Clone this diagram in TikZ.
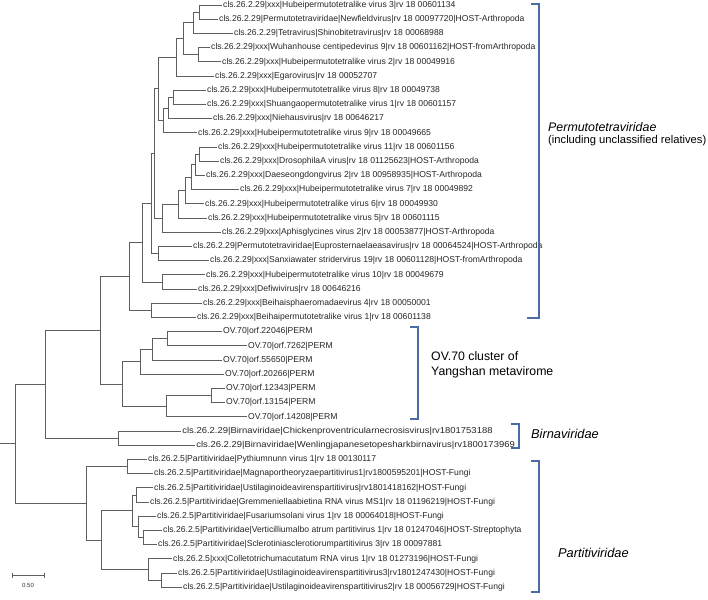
\documentclass[tikz,border=0pt]{standalone}
\usepackage{fontspec}
\setmainfont{Liberation Sans}
\definecolor{brk}{HTML}{4A6BA5}
\definecolor{tree}{HTML}{5E5E5E}
\begin{document}
\begin{tikzpicture}[x=1pt,y=-1pt,
  leaf/.style={anchor=west,inner sep=1pt,font=\fontsize{8.6}{9.5}\selectfont,text=black!85},
  wideleaf/.style={leaf,xscale=1.1},
  branch/.style={draw=tree,line width=0.8pt},
  clade/.style={draw=brk,line width=1.1pt},
  cladelabel/.style={anchor=west,inner sep=0pt,font=\fontsize{12.3}{14}\selectfont},
  cladename/.style={anchor=west,inner sep=0pt,font=\fontsize{12.8}{14}\selectfont\itshape},
  permlabel/.style={anchor=west,inner sep=0pt,font=\fontsize{11.2}{13}\selectfont}]
\useasboundingbox (0,0) rectangle (708,599);
% ---------- leaves ----------
\node[leaf] (L1)  at (222,5.0)   {cls.26.2.29|xxx|Hubeipermutotetralike virus 3|rv 18 00601134};
\node[leaf] (L2)  at (218,19.2)  {cls.26.2.29|Permutotetraviridae|Newfieldvirus|rv 18 00097720|HOST-Arthropoda};
\node[leaf] (L3)  at (233,33.4)  {cls.26.2.29|Tetravirus|Shinobitetravirus|rv 18 00068988};
\node[leaf] (L4)  at (210,47.6)  {cls.26.2.29|xxx|Wuhanhouse centipedevirus 9|rv 18 00601162|HOST-fromArthropoda};
\node[leaf] (L5)  at (221,61.8)  {cls.26.2.29|xxx|Hubeipermutotetralike virus 2|rv 18 00049916};
\node[leaf] (L6)  at (214,76.0)  {cls.26.2.29|xxx|Egarovirus|rv 18 00052707};
\node[leaf] (L7)  at (206,90.2)  {cls.26.2.29|xxx|Hubeipermutotetralike virus 8|rv 18 00049738};
\node[leaf] (L8)  at (206,104.4) {cls.26.2.29|xxx|Shuangaopermutotetralike virus 1|rv 18 00601157};
\node[leaf] (L9)  at (212,118.6) {cls.26.2.29|xxx|Niehausvirus|rv 18 00646217};
\node[leaf] (L10) at (197,132.8) {cls.26.2.29|xxx|Hubeipermutotetralike virus 9|rv 18 00049665};
\node[leaf] (L11) at (217,147.0) {cls.26.2.29|xxx|Hubeipermutotetralike virus 11|rv 18 00601156};
\node[leaf] (L12) at (219,161.2) {cls.26.2.29|xxx|DrosophilaA virus|rv 18 01125623|HOST-Arthropoda};
\node[leaf] (L13) at (205,175.4) {cls.26.2.29|xxx|Daeseongdongvirus 2|rv 18 00958935|HOST-Arthropoda};
\node[leaf] (L14) at (239,189.6) {cls.26.2.29|xxx|Hubeipermutotetralike virus 7|rv 18 00049892};
\node[leaf] (L15) at (204,203.8) {cls.26.2.29|xxx|Hubeipermutotetralike virus 6|rv 18 00049930};
\node[leaf] (L16) at (207,218.0) {cls.26.2.29|xxx|Hubeipermutotetralike virus 5|rv 18 00601115};
\node[leaf] (L17) at (221,232.2) {cls.26.2.29|xxx|Aphisglycines virus 2|rv 18 00053877|HOST-Arthropoda};
\node[leaf] (L18) at (192,246.4) {cls.26.2.29|Permutotetraviridae|Euprosternaelaeasavirus|rv 18 00064524|HOST-Arthropoda};
\node[leaf] (L19) at (209,260.6) {cls.26.2.29|xxx|Sanxiawater stridervirus 19|rv 18 00601128|HOST-fromArthropoda};
\node[leaf] (L20) at (205,274.8) {cls.26.2.29|xxx|Hubeipermutotetralike virus 10|rv 18 00049679};
\node[leaf] (L21) at (197,289.0) {cls.26.2.29|xxx|Defiwivirus|rv 18 00646216};
\node[leaf] (L22) at (202,303.2) {cls.26.2.29|xxx|Beihaisphaeromadaevirus 4|rv 18 00050001};
\node[leaf] (L23) at (196,317.4) {cls.26.2.29|xxx|Beihaipermutotetralike virus 1|rv 18 00601138};
\node[leaf] (L24) at (222,331.6) {OV.70|orf.22046|PERM};
\node[leaf] (L25) at (247,345.8) {OV.70|orf.7262|PERM};
\node[leaf] (L26) at (222,360.0) {OV.70|orf.55650|PERM};
\node[leaf] (L27) at (224,374.2) {OV.70|orf.20266|PERM};
\node[leaf] (L28) at (225,388.4) {OV.70|orf.12343|PERM};
\node[leaf] (L29) at (225,402.6) {OV.70|orf.13154|PERM};
\node[leaf] (L30) at (247,416.8) {OV.70|orf.14208|PERM};
\node[wideleaf] (L31) at (181,431.0) {cls.26.2.29|Birnaviridae|Chickenproventricularnecrosisvirus|rv1801753188};
\node[wideleaf] (L32) at (195,445.2) {cls.26.2.29|Birnaviridae|Wenlingjapanesetopesharkbirnavirus|rv1800173969};
\node[leaf] (L33) at (147,459.4) {cls.26.2.5|Partitiviridae|Pythiumnunn virus 1|rv 18 00130117};
\node[leaf] (L34) at (153,473.6) {cls.26.2.5|Partitiviridae|Magnaportheoryzaepartitivirus1|rv1800595201|HOST-Fungi};
\node[leaf] (L35) at (153,487.8) {cls.26.2.5|Partitiviridae|Ustilaginoideavirenspartitivirus|rv1801418162|HOST-Fungi};
\node[leaf] (L36) at (149,502.0) {cls.26.2.5|Partitiviridae|Gremmeniellaabietina RNA virus MS1|rv 18 01196219|HOST-Fungi};
\node[leaf] (L37) at (156,516.2) {cls.26.2.5|Partitiviridae|Fusariumsolani virus 1|rv 18 00064018|HOST-Fungi};
\node[leaf] (L38) at (162,530.4) {cls.26.2.5|Partitiviridae|Verticilliumalbo atrum partitivirus 1|rv 18 01247046|HOST-Streptophyta};
\node[leaf] (L39) at (157,544.6) {cls.26.2.5|Partitiviridae|Sclerotiniasclerotiorumpartitivirus 3|rv 18 00097881};
\node[leaf] (L40) at (172,558.8) {cls.26.2.5|xxx|Colletotrichumacutatum RNA virus 1|rv 18 01273196|HOST-Fungi};
\node[leaf] (L41) at (177,573.0) {cls.26.2.5|Partitiviridae|Ustilaginoideavirenspartitivirus3|rv1801247430|HOST-Fungi};
\node[leaf] (L42) at (182,587.2) {cls.26.2.5|Partitiviridae|Ustilaginoideavirenspartitivirus2|rv 18 00056729|HOST-Fungi};
% ---------- internal nodes ----------
\coordinate (A)  at (199,12.1);
\coordinate (B)  at (193,22.75);
\coordinate (C)  at (198,54.7);
\coordinate (D)  at (183,38.73);
\coordinate (E)  at (176,57.36);
\coordinate (F)  at (173,97.3);
\coordinate (G)  at (168,107.95);
\coordinate (H)  at (163,120.38);
\coordinate (I)  at (158,88.87);
\coordinate (K1) at (199,154.1);
\coordinate (K2) at (195,164.75);
\coordinate (K3) at (191,177.18);
\coordinate (K4) at (185,190.49);
\coordinate (K5) at (178,204.24);
\coordinate (K6) at (162,218.22);
\coordinate (J)  at (154,153.55);
\coordinate (M)  at (158,253.5);
\coordinate (Lc) at (151,203.52);
\coordinate (O)  at (162,281.9);
\coordinate (N)  at (142,242.71);
\coordinate (Q)  at (151,310.3);
\coordinate (P)  at (129,276.5);
\coordinate (T3) at (167,338.7);
\coordinate (T2) at (152,349.35);
\coordinate (T1) at (140,361.78);
\coordinate (U1) at (211,395.5);
\coordinate (U)  at (166,406.15);
\coordinate (S)  at (122,383.96);
\coordinate (R)  at (100,330.23);
\coordinate (W)  at (118,438.1);
\coordinate (V)  at (45,384.17);
\coordinate (Y1) at (127,466.5);
\coordinate (Y5) at (136,494.9);
\coordinate (Y7) at (143,537.5);
\coordinate (Y6) at (138,526.85);
\coordinate (Y3) at (132,510.88);
\coordinate (Y8) at (161,580.1);
\coordinate (Y4) at (148,569.45);
\coordinate (Y2) at (101,540.16);
\coordinate (Y)  at (86,503.33);
\coordinate (X)  at (15,443.75);
\coordinate (root) at (0,443.75);
% ---------- branches ----------
\foreach \p/\c in {A/L1.west,A/L2.west,B/A,B/L3.west,C/L4.west,C/L5.west,D/B,D/C,E/D,E/L6.west,
  F/L7.west,F/L8.west,G/F,G/L9.west,H/G,H/L10.west,I/E,I/H,
  K1/L11.west,K1/L12.west,K2/K1,K2/L13.west,K3/K2,K3/L14.west,K4/K3,K4/L15.west,K5/K4,K5/L16.west,
  K6/K5,K6/L17.west,J/I,J/K6,M/L18.west,M/L19.west,Lc/J,Lc/M,O/L20.west,O/L21.west,N/Lc,N/O,
  Q/L22.west,Q/L23.west,P/N,P/Q,T3/L24.west,T3/L25.west,T2/T3,T2/L26.west,T1/T2,T1/L27.west,
  U1/L28.west,U1/L29.west,U/U1,U/L30.west,S/T1,S/U,R/P,R/S,W/L31.west,W/L32.west,V/R,V/W,
  Y1/L33.west,Y1/L34.west,Y5/L35.west,Y5/L36.west,Y7/L38.west,Y7/L39.west,Y6/L37.west,Y6/Y7,
  Y3/Y5,Y3/Y6,Y8/L41.west,Y8/L42.west,Y4/L40.west,Y4/Y8,Y2/Y3,Y2/Y4,Y/Y1,Y/Y2,X/V,X/Y}
  \draw[branch] (\p) |- (\c);
\draw[branch] (root) -- (X);
% ---------- clade brackets ----------
\coordinate (pb1) at (531,4);   \coordinate (pb2) at (539,4);
\coordinate (pb3) at (539,318); \coordinate (pb4) at (527,318);
\draw[clade] (pb1) -- (pb2) -- (pb3) -- (pb4);
\coordinate (ob1) at (410,327); \coordinate (ob2) at (418,327);
\coordinate (ob3) at (418,419); \coordinate (ob4) at (410,419);
\draw[clade] (ob1) -- (ob2) -- (ob3) -- (ob4);
\coordinate (bb1) at (511,424); \coordinate (bb2) at (519,424);
\coordinate (bb3) at (519,448); \coordinate (bb4) at (511,448);
\draw[clade] (bb1) -- (bb2) -- (bb3) -- (bb4);
\coordinate (tb1) at (531,461); \coordinate (tb2) at (539,461);
\coordinate (tb3) at (539,592); \coordinate (tb4) at (531,592);
\draw[clade] (tb1) -- (tb2) -- (tb3) -- (tb4);
% ---------- clade labels ----------
\node[cladename,font=\fontsize{12.4}{14}\selectfont\itshape] (perm1) at (548,127) {Permutotetraviridae};
\node[permlabel] (perm2) at (548,141) {(including unclassified relatives)};
\node[cladelabel] (ov1) at (431,356) {OV.70 cluster of};
\node[cladelabel] (ov2) at (431,372) {Yangshan metavirome};
\node[cladename] (birna) at (531,434) {Birnaviridae};
\node[cladename] (parti) at (558,553) {Partitiviridae};
% ---------- scale bar ----------
\coordinate (sb1) at (12,575); \coordinate (sb2) at (44,575);
\draw[branch,line width=0.7pt] (sb1) -- (sb2);
\draw[branch,line width=0.7pt] ([yshift=-2.5pt]sb1) -- ([yshift=2.5pt]sb1);
\draw[branch,line width=0.7pt] ([yshift=-2.5pt]sb2) -- ([yshift=2.5pt]sb2);
\node[font=\fontsize{6}{7}\selectfont,text=black!80,inner sep=0pt] (sbl) at (28,585) {0.50};
\end{tikzpicture}
\end{document}
